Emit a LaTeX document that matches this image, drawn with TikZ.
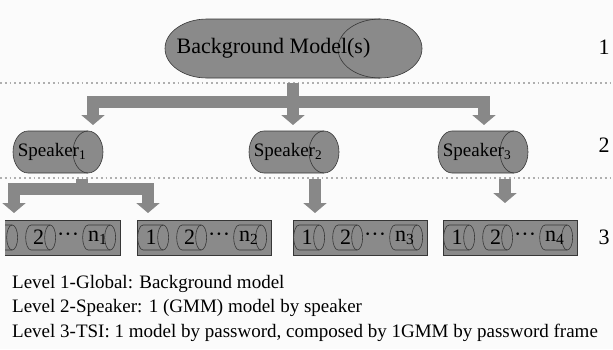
\documentclass[tikz,border=0pt]{standalone}
\usepackage{fontspec}
\setmainfont{Liberation Serif}
\usetikzlibrary{arrows.meta,positioning,calc}
\definecolor{cylgray}{RGB}{138,138,138}
\definecolor{arrgray}{RGB}{136,136,136}
\definecolor{edgegray}{RGB}{55,55,55}
\definecolor{bggray}{RGB}{251,251,251}
\definecolor{dotgray}{RGB}{175,175,175}

\begin{document}
\begin{tikzpicture}[x=1pt,y=-1pt,
    cyl/.style 2 args={inner sep=0pt, outer sep=0pt, path picture={
      \path[draw=edgegray, fill=cylgray, line width=0.6pt]
        ($(path picture bounding box.north east)+(-#1-1pt,-1pt)$)
        -- ($(path picture bounding box.north west)+(#1+1pt,-1pt)$)
        arc[start angle=90, end angle=270, x radius=#1, y radius=#2]
        -- ($(path picture bounding box.south east)+(-#1-1pt,1pt)$)
        arc[start angle=-90, end angle=90, x radius=#1, y radius=#2]
        -- cycle;
      \path[draw=edgegray, line width=0.6pt]
        ($(path picture bounding box.north east)+(-#1-1pt,-1pt)$)
        arc[start angle=90, end angle=270, x radius=#1, y radius=#2];
    }},
    framebox/.style={draw=edgegray, fill=cylgray, line width=0.7pt, minimum width=134pt, minimum height=35pt, inner sep=0pt},
    bigarrow/.style={draw=arrgray, line width=12pt, line join=miter, -{Triangle[width=23pt,length=10pt]}},
    levelsep/.style={draw=dotgray, line width=1.8pt, dash pattern=on 1.8pt off 3pt},
    big/.style={font=\fontsize{22}{26}\selectfont},
    mid/.style={font=\fontsize{19}{24.5}\selectfont}]
\fill[bggray] (0,0) rectangle (613,349);
\useasboundingbox (0,0) rectangle (613,349);

% level separators
\draw[levelsep] (0,83) -- (613,83);
\draw[levelsep] (0,178) -- (613,178);

% level 1
\node[cyl={42pt}{29.5pt}, big, minimum width=259pt, minimum height=61pt] (bm) at (293.5,48.5) {Background Model(s)\hspace*{40pt}};

% level 2
\node[cyl={15pt}{21pt}, mid, minimum width=92pt, minimum height=44pt] (spk1) at (58,152) {Speaker\textsubscript{1}\hspace*{12pt}};
\node[cyl={15pt}{21pt}, mid, minimum width=92pt, minimum height=44pt] (spk2) at (294,152) {Speaker\textsubscript{2}\hspace*{12pt}};
\node[cyl={14pt}{21pt}, mid, minimum width=92pt, minimum height=44pt] (spk3) at (483,152) {Speaker\textsubscript{3}\hspace*{12pt}};

% level 3
\begin{scope}
\clip (5,0) rectangle (613,349);
\foreach \bx [count=\i] in {53,204,360,510} {
  \node[framebox] (box\i) at (\bx,237.5) {};
  \node[cyl={5.5pt}{12.5pt}, big, minimum width=33pt, minimum height=27pt] (f\i a) at ([xshift=16.5pt]box\i.west) {\ifnum\i>1 1\hspace*{4pt}\fi};
  \node[cyl={5.5pt}{12.5pt}, big, minimum width=32pt, minimum height=27pt] (f\i b) at ([xshift=55pt]box\i.west) {2\hspace*{4pt}};
  \node[big, inner sep=0pt] (d\i) at ([xshift=82.5pt]box\i.west) {···};
  \node[cyl={5.5pt}{12.5pt}, big, minimum width=35pt, minimum height=27pt] (f\i n) at ([xshift=113.5pt]box\i.west) {n\textsubscript{\i}\hspace*{3pt}};
}
\end{scope}

% arrows
\coordinate (j1) at (293,102);
\coordinate (t1) at (93,125);
\coordinate (t2) at (293,125);
\coordinate (t3) at (484,125);
\draw[bigarrow, shorten <=4pt] (bm.south -| j1) -- (t2);
\draw[bigarrow] (j1) -| (t1);
\draw[bigarrow] (j1) -| (t3);

\coordinate (j2) at (82,189);
\coordinate (t4) at (14,213);
\coordinate (t5) at (148,213);
\coordinate (t6) at (315,213);
\coordinate (t7) at (505,203);
\draw[bigarrow, shorten <=5pt] (spk1.south -| j2) -- (j2) -| (t4);
\draw[bigarrow, shorten <=5pt] (spk1.south -| j2) -- (j2) -| (t5);
\draw[bigarrow, shorten <=5pt] (spk2.south -| t6) -- (t6);
\draw[bigarrow, shorten <=5pt] (spk3.south -| t7) -- (t7);

% level numbers
\node[big] (lv1) at (604,47) {1};
\node[big] (lv2) at (604,145) {2};
\node[big] (lv3) at (604,237) {3};

% legend
\node[mid, anchor=base west, inner sep=0pt] (leg1) at (12,288) {Level 1-Global: Background model};
\node[mid, anchor=base west, inner sep=0pt] (leg2) at (12,312.5) {Level 2-Speaker: 1 (GMM) model by speaker};
\node[mid, anchor=base west, inner sep=0pt] (leg3) at (12,337) {Level 3-TSI: 1 model by password, composed by 1GMM by password frame};
\end{tikzpicture}
\end{document}
